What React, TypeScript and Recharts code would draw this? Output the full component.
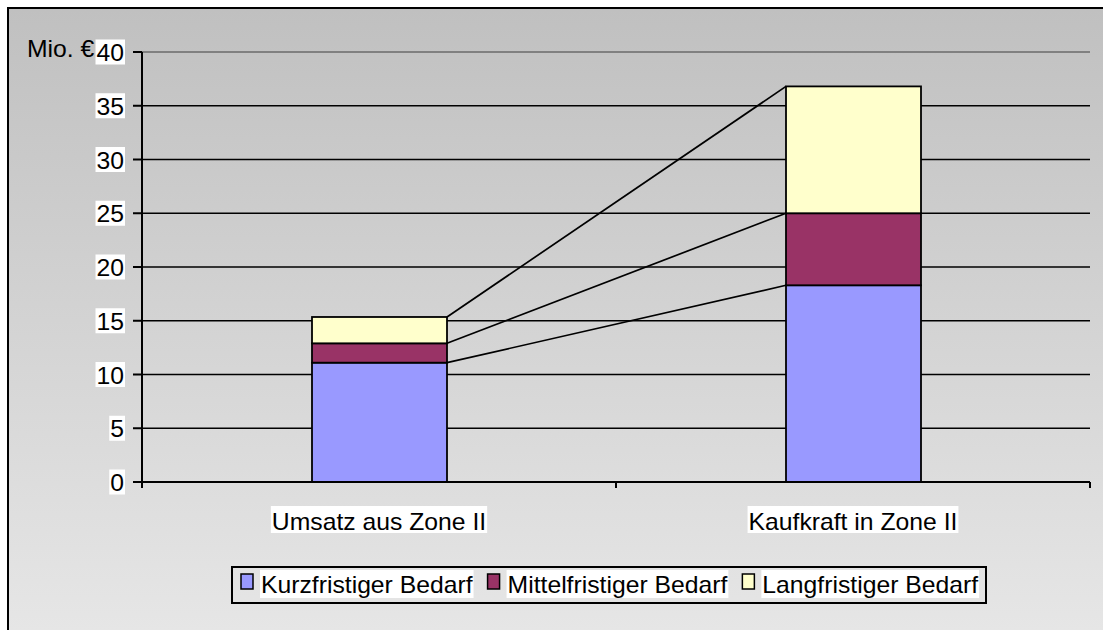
import React from 'react';
import { BarChart, Bar, XAxis, YAxis, CartesianGrid, ReferenceLine } from 'recharts';

// ---- data ----
const categories = ['Umsatz aus Zone II', 'Kaufkraft in Zone II'];
const kurzfristig = [11.1, 18.3];
const mittelfristig = [1.8, 6.7];
const langfristig = [2.45, 11.8];
const yTicks = [0, 5, 10, 15, 20, 25, 30, 35, 40];
const seriesKeys = ['kurz', 'mittel', 'lang'];
const seriesNames = ['Kurzfristiger Bedarf', 'Mittelfristiger Bedarf', 'Langfristiger Bedarf'];
const seriesColors = ['#9999FF', '#993366', '#FFFFCC'];
const axisTitle = 'Mio. €';

const data = categories.map((c, i) => ({
  category: c,
  kurz: kurzfristig[i],
  mittel: mittelfristig[i],
  lang: langfristig[i],
}));

// ---- layout ----
const CHART_W = 1094;
const CHART_H = 621;
const MARGIN = { top: 43, right: 13, bottom: 88, left: 73 };
const Y_W = 60;
const X_H = 60;
const PLOT_W = CHART_W - MARGIN.left - MARGIN.right - Y_W;
const HALF_BAND = PLOT_W / categories.length / 2;
const FONT = '"Liberation Sans", Arial, sans-serif';
const FS = 24;
const SX = 1.03;

let ctx: CanvasRenderingContext2D | null = null;
function textWidth(s: string): number {
  if (typeof document === 'undefined') return s.length * 13;
  if (!ctx) ctx = document.createElement('canvas').getContext('2d');
  if (!ctx) return s.length * 13;
  ctx.font = `${FS}px ${FONT}`;
  return ctx.measureText(s).width;
}

function StretchText({ x, y, text }: { x: number; y: number; text: string }) {
  return (
    <text
      transform={`translate(${x},${y}) scale(${SX},1)`}
      x={0}
      y={0}
      fontSize={FS}
      fontFamily={FONT}
      fill="#000"
    >
      {text}
    </text>
  );
}

function YTick(props: any) {
  const { x, y, payload } = props;
  const label = String(payload.value);
  const w = textWidth(label) * SX;
  return (
    <g>
      <rect x={x - w - 1} y={y - 12.5} width={w + 2} height={25} fill="#fff" />
      <StretchText x={x - w} y={y + 9} text={label} />
    </g>
  );
}

function XTick(props: any) {
  const { x, y, payload, index } = props;
  const label = String(payload.value);
  const w = textWidth(label) * SX;
  const isLast = index === categories.length - 1;
  return (
    <g>
      <line x1={x - HALF_BAND} x2={x - HALF_BAND} y1={y} y2={y + 6} stroke="#000" strokeWidth={2} />
      {isLast && (
        <line x1={x + HALF_BAND} x2={x + HALF_BAND} y1={y} y2={y + 6} stroke="#000" strokeWidth={2} />
      )}
      <rect x={x - w / 2 - 1} y={y + 24} width={w + 2} height={27} fill="#fff" />
      <StretchText x={x - w / 2} y={y + 48} text={label} />
    </g>
  );
}

type Geo = { x: number; y: number; width: number; height: number };
const geom: Record<string, Geo[]> = {};

function makeShape(key: string, color: string, drawLines: boolean) {
  return (props: any) => {
    const { x, y, width, height } = props;
    const idx = typeof props.index === 'number' ? props.index : categories.indexOf(props?.payload?.category);
    if (!geom[key]) geom[key] = [];
    geom[key][idx] = { x, y, width, height };
    const lines: React.ReactNode[] = [];
    if (drawLines && idx > 0) {
      seriesKeys.forEach((k) => {
        const a = geom[k]?.[idx - 1];
        const b = geom[k]?.[idx];
        if (a && b) {
          lines.push(
            <line key={k} x1={a.x + a.width} y1={a.y} x2={b.x} y2={b.y} stroke="#000" strokeWidth={1.7} />
          );
        }
      });
    }
    return (
      <g>
        <rect x={x} y={y} width={width} height={height} fill={color} stroke="#000" strokeWidth={1.8} />
        {lines}
      </g>
    );
  };
}

function Underlay() {
  // legend + axis title (drawn beneath the chart)
  let cx = 232;
  const items = seriesNames.map((name, i) => {
    const sw = 12;
    const tw = textWidth(name) * SX;
    const sx = cx;
    const tx = sx + sw + 7;
    cx = tx + tw + 16;
    return (
      <g key={name}>
        <rect x={sx} y={565} width={sw} height={15} fill={seriesColors[i]} stroke="#000" strokeWidth={1.5} />
        <rect x={tx} y={561} width={tw + 2} height={28} fill="#fff" />
        <StretchText x={tx + 1} y={584} text={name} />
      </g>
    );
  });
  return (
    <svg width={CHART_W} height={CHART_H} style={{ position: 'absolute', left: 0, top: 0 }}>
      <StretchText x={18} y={48} text={axisTitle} />
      <rect x={223} y={558} width={754} height={36} fill="none" stroke="#000" strokeWidth={2} />
      {items}
    </svg>
  );
}

export default function App() {
  return (
    <div
      style={{
        position: 'absolute',
        left: 7,
        top: 7,
        width: 1096,
        height: 623,
        boxSizing: 'border-box',
        borderTop: '2px solid #000',
        borderLeft: '2px solid #000',
        background: 'linear-gradient(to bottom, #C0C0C0, #E6E6E6)',
        overflow: 'hidden',
      }}
    >
      <Underlay />
      <div style={{ position: 'absolute', left: 0, top: 0 }}>
        <BarChart width={CHART_W} height={CHART_H} data={data} margin={MARGIN}>
          <CartesianGrid vertical={false} stroke="#000" strokeWidth={1.3} />
          <XAxis
            dataKey="category"
            height={X_H}
            axisLine={{ stroke: '#000', strokeWidth: 2 }}
            tickLine={false}
            tickSize={0}
            tickMargin={0}
            tick={<XTick />}
            interval={0}
          />
          <YAxis
            yAxisId={0}
            width={Y_W}
            domain={[0, 40]}
            ticks={yTicks}
            interval={0}
            axisLine={{ stroke: '#000', strokeWidth: 2 }}
            tickLine={{ stroke: '#000', strokeWidth: 2 }}
            tickSize={9}
            tickMargin={9}
            tick={<YTick />}
          />
          <YAxis
            yAxisId="right"
            orientation="right"
            width={0}
            domain={[0, 40]}
            tick={false}
            tickLine={false}
            axisLine={{ stroke: '#808080', strokeWidth: 2 }}
          />
          <ReferenceLine y={40} yAxisId={0} stroke="#808080" strokeWidth={2} />
          {seriesKeys.map((k, i) => (
            <Bar
              key={k}
              dataKey={k}
              name={seriesNames[i]}
              stackId="a"
              yAxisId={0}
              fill={seriesColors[i]}
              barSize={135}
              isAnimationActive={false}
              shape={makeShape(k, seriesColors[i], i === seriesKeys.length - 1)}
            />
          ))}
        </BarChart>
      </div>
    </div>
  );
}
